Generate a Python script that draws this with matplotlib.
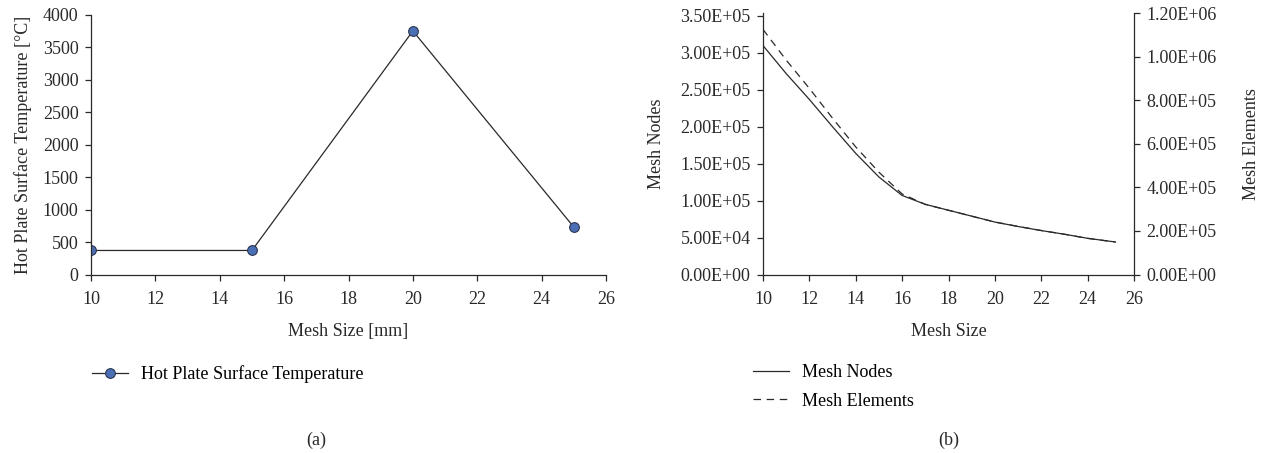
import matplotlib
matplotlib.use("Agg")
import matplotlib.pyplot as plt

plt.rcParams['font.family'] = ['Liberation Serif', 'DejaVu Serif']
plt.rcParams['font.size'] = 13
INK = '#2b2829'

# (a) hot plate temperature vs mesh size
mesh_size_a = [10, 15, 20, 25]
hot_plate_temp = [370, 370, 3750, 730]

# (b) mesh statistics vs mesh size
mesh_size_b = [10, 11, 12, 13, 14, 15, 16, 17, 18, 19, 20, 21, 22, 23, 24, 25.2]
mesh_nodes = [3.10e5, 2.72e5, 2.37e5, 2.00e5, 1.64e5, 1.32e5, 1.07e5, 9.5e4,
              8.7e4, 7.9e4, 7.1e4, 6.5e4, 5.95e4, 5.45e4, 4.9e4, 4.4e4]
mesh_elements = [1.126e6, 9.85e5, 8.55e5, 7.18e5, 5.86e5, 4.70e5, 3.70e5, 3.22e5,
                 2.95e5, 2.68e5, 2.41e5, 2.21e5, 2.02e5, 1.85e5, 1.66e5, 1.49e5]

W, H = 1265, 453
fig = plt.figure(figsize=(W / 100, H / 100), dpi=100)


def px_axes(l, t, r, b):
    return fig.add_axes([l / W, 1 - b / H, (r - l) / W, (b - t) / H])


def style(ax, spines):
    for s in ['top', 'right', 'left', 'bottom']:
        ax.spines[s].set_visible(s in spines)
        ax.spines[s].set_color(INK)
        ax.spines[s].set_linewidth(0.9)
    ax.tick_params(direction='out', length=4, width=0.9, colors=INK, labelcolor=INK)
    ax.tick_params(axis='x', pad=8)
    ax.tick_params(axis='y', pad=5)


sci = lambda v, pos: ('%.2E' % v)

# ---- (a)
ax1 = px_axes(91, 14.7, 606, 274.5)
ax1.plot(mesh_size_a, hot_plate_temp, color=INK, lw=0.9, marker='o', ms=7,
         mfc='#4a6fb5', mec='#2a3550', mew=0.8, label='Hot Plate Surface Temperature')
ax1.set_xlim(10, 26)
ax1.set_ylim(0, 4000)
ax1.set_xticks(range(10, 27, 2))
ax1.set_yticks(range(0, 4001, 500))
style(ax1, ['left', 'bottom'])
ax1.set_xlabel('Mesh Size [mm]', color=INK, labelpad=11)
ax1.set_ylabel('Hot Plate Surface Temperature [°C]', color=INK, labelpad=8)
ax1.legend(loc='center left', bbox_to_anchor=(92 / W, 1 - 374 / H),
           bbox_transform=fig.transFigure, frameon=False, borderpad=0,
           borderaxespad=0, handlelength=2.0, handletextpad=0.7)

# ---- (b)
ax2 = px_axes(763, 13.3, 1134, 274.5)
ax3 = ax2.twinx()
l1, = ax2.plot(mesh_size_b, mesh_nodes, color=INK, lw=0.9, label='Mesh Nodes')
l2, = ax3.plot(mesh_size_b, mesh_elements, color=INK, lw=0.9, ls=(0, (6, 4.5)),
               label='Mesh Elements')
ax2.set_xlim(10, 26)
ax2.set_xticks(range(10, 27, 2))
ax2.set_ylim(0, 3.5e5 * (274.5 - 13.3) / (274.5 - 16))
ax2.set_yticks([i * 5e4 for i in range(8)])
ax3.set_ylim(0, 1.2e6)
ax3.set_yticks([i * 2e5 for i in range(7)])
ax2.yaxis.set_major_formatter(matplotlib.ticker.FuncFormatter(sci))
ax3.yaxis.set_major_formatter(matplotlib.ticker.FuncFormatter(sci))
style(ax2, ['left', 'bottom'])
style(ax3, ['right'])
ax2.set_xlabel('Mesh Size', color=INK, labelpad=11)
ax2.set_ylabel('Mesh Nodes', color=INK, labelpad=11)
ax3.set_ylabel('Mesh Elements', color=INK, labelpad=19)
ax3.legend([l1, l2], ['Mesh Nodes', 'Mesh Elements'], loc='upper left',
           bbox_to_anchor=(753 / W, 1 - 364 / H), bbox_transform=fig.transFigure,
           frameon=False, borderpad=0, borderaxespad=0, handlelength=2.0,
           handletextpad=0.7, labelspacing=0.65)

fig.text(316 / W, 1 - 440 / H, '(a)', ha='center', va='center', color=INK)
fig.text(949 / W, 1 - 440 / H, '(b)', ha='center', va='center', color=INK)

fig.savefig('out.png', dpi=100)
